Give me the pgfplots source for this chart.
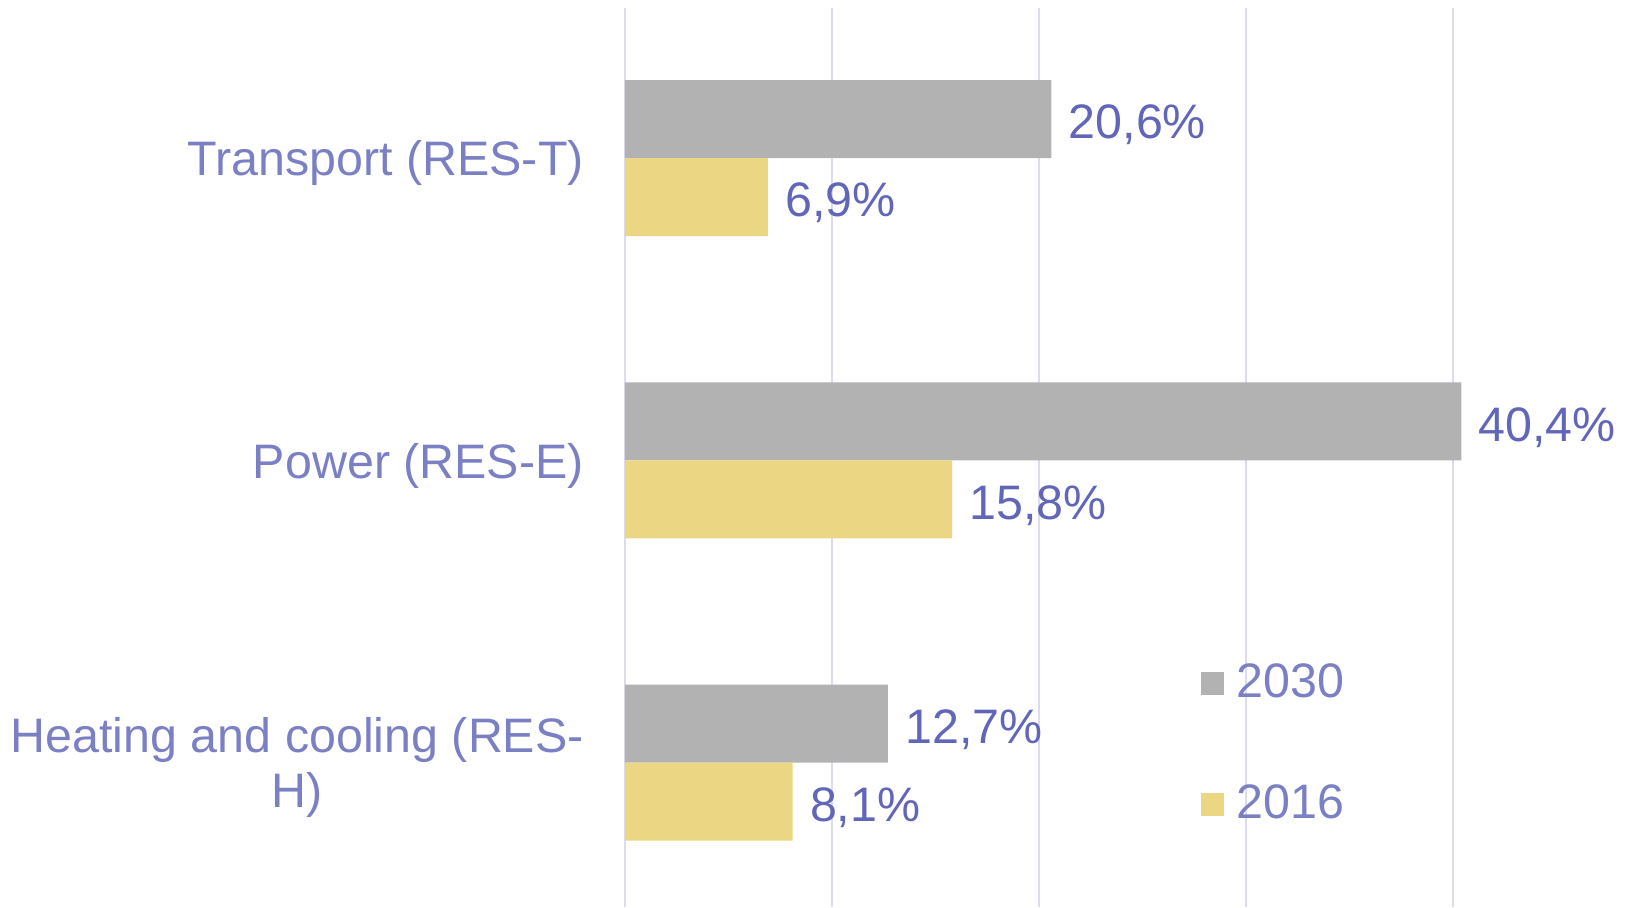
\documentclass[border=0pt]{standalone}
\usepackage{fontspec}
\setmainfont{Liberation Sans}
\usepackage{pgfplots}
\pgfplotsset{compat=1.18}
\definecolor{bargray}{HTML}{B2B2B2}
\definecolor{baryel}{HTML}{EBD783}
\definecolor{lbl}{HTML}{7B7FC4}
\definecolor{dlbl}{HTML}{6266B8}
\definecolor{gridc}{HTML}{DCDCEE}
\begin{document}
\begin{tikzpicture}
\path[use as bounding box] (-312.5pt,-0.5pt) rectangle (507pt,453.5pt);
\begin{axis}[
  at={(0pt,0pt)}, anchor=south west,
  scale only axis, width=507.15pt, height=449.5pt,
  xmin=0, xmax=49, ymin=-0.478, ymax=2.497,
  xbar, bar width=39pt,
  xtick={0,10,20,30,40}, xticklabels={},
  xmajorgrids, grid style={gridc, line width=1pt},
  ytick={0,1,2},
  yticklabels={{Heating and cooling (RES-\\H)},{Power (RES-E)},{Transport (RES-T)}},
  yticklabel style={align=center, inner sep=0pt, xshift=-20.4pt, yshift=-2.6pt,
    font=\fontsize{24.2}{27.7}\selectfont, text=lbl},
  major tick length=0pt,
  axis line style={draw=none},
  clip=false,
  point meta=explicit symbolic,
  nodes near coords={\pgfplotspointmeta},
  every node near coord/.append style={anchor=west, inner sep=0pt, xshift=8.5pt, yshift=-3pt,
    text=dlbl, font=\fontsize{24.2}{27.7}\selectfont},
  legend style={draw=none, fill=none, at={(0.562,0.183)}, anchor=west,
    font=\fontsize{24.2}{27.7}\selectfont, text=lbl, row sep=42pt, column sep=6pt,
    nodes={inner sep=0pt}},
]
\addplot[fill=bargray, draw=none, bar shift=19.5pt,
  legend image code/.code={\fill[bargray] (0pt,-6.5pt) rectangle (11.5pt,5pt);}]
  coordinates {(12.7,0) [12,7\%] (40.4,1) [40,4\%] (20.6,2) [20,6\%]};
\addlegendentry{2030}
\addplot[fill=baryel, draw=none, bar shift=-19.5pt,
  legend image code/.code={\fill[baryel] (0pt,-6.5pt) rectangle (11.5pt,5pt);}]
  coordinates {(8.1,0) [8,1\%] (15.8,1) [15,8\%] (6.9,2) [6,9\%]};
\addlegendentry{2016}
\end{axis}
\end{tikzpicture}
\end{document}
